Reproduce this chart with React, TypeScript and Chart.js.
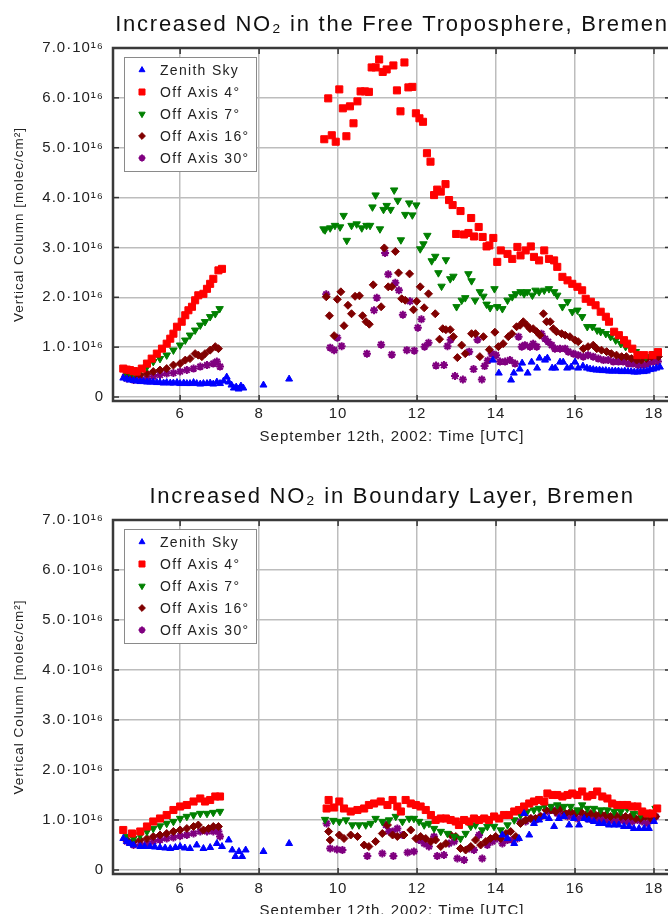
import React, { useEffect, useRef } from 'react';
import { Chart, registerables } from 'chart.js';
import { drawPoint } from 'chart.js/helpers';

Chart.register(...registerables);

type P = [number, number];

// ---------- axis ticks ----------
const xTicks = [6, 8, 10, 12, 14, 16, 18];
const yTicks = [0, 1, 2, 3, 4, 5, 6, 7];

// ---------- labels ----------
const seriesLabels = ['Zenith Sky', 'Off Axis 4°', 'Off Axis 7°', 'Off Axis 16°', 'Off Axis 30°'];
const chartTitles = [
  'Increased NO₂ in the Free Troposphere, Bremen',
  'Increased NO₂ in Boundary Layer, Bremen',
];
const xTitle = 'September 12th, 2002: Time [UTC]';
const yTitle = 'Vertical Column [molec/cm²]';

// ---------- Free troposphere (values in 1e16 molec/cm²) ----------
const ftZenith: P[] = [
  [4.56, 0.38], [4.65, 0.36], [4.73, 0.34], [4.82, 0.33], [4.9, 0.32], [4.99, 0.31], [5.07, 0.31],
  [5.16, 0.3], [5.24, 0.3], [5.32, 0.3], [5.41, 0.29], [5.49, 0.29], [5.58, 0.28], [5.66, 0.29],
  [5.75, 0.28], [5.83, 0.28], [5.92, 0.29], [6.0, 0.27], [6.09, 0.28], [6.17, 0.27], [6.25, 0.27],
  [6.34, 0.29], [6.42, 0.27], [6.51, 0.26], [6.59, 0.27], [6.68, 0.27], [6.76, 0.28], [6.84, 0.26],
  [6.93, 0.3], [7.01, 0.27], [7.1, 0.32], [7.18, 0.4], [7.23, 0.3], [7.3, 0.24], [7.36, 0.18],
  [7.42, 0.2], [7.48, 0.16], [7.54, 0.22], [7.6, 0.18], [8.11, 0.24], [8.76, 0.36],
  [13.92, 0.74], [14.07, 0.48], [14.38, 0.34], [14.45, 0.48], [14.6, 0.56], [14.66, 0.68],
  [14.8, 0.48], [14.9, 0.7], [15.04, 0.58], [15.1, 0.78], [15.24, 0.74], [15.3, 0.78],
  [15.42, 0.58], [15.5, 0.58], [15.62, 0.7], [15.7, 0.7], [15.8, 0.58], [15.9, 0.6], [16.0, 0.7],
  [16.08, 0.58], [16.2, 0.62], [16.3, 0.58], [16.38, 0.56], [16.46, 0.55], [16.54, 0.54],
  [16.62, 0.54], [16.7, 0.53], [16.78, 0.53], [16.86, 0.52], [16.94, 0.52], [17.02, 0.52],
  [17.1, 0.52], [17.18, 0.51], [17.26, 0.52], [17.34, 0.51], [17.42, 0.51], [17.5, 0.5],
  [17.58, 0.5], [17.66, 0.51], [17.74, 0.51], [17.82, 0.52], [17.9, 0.55], [17.98, 0.56],
  [18.06, 0.58], [18.15, 0.6],
];
const ftOff4: P[] = [
  [4.56, 0.57], [4.65, 0.55], [4.73, 0.54], [4.82, 0.52], [4.9, 0.51], [5.03, 0.57], [5.16, 0.67],
  [5.28, 0.77], [5.41, 0.87], [5.54, 0.97], [5.66, 1.07], [5.75, 1.17], [5.83, 1.27], [5.92, 1.41],
  [6.04, 1.51], [6.13, 1.64], [6.21, 1.74], [6.3, 1.81], [6.38, 1.94], [6.46, 2.04], [6.59, 2.07],
  [6.68, 2.17], [6.76, 2.27], [6.84, 2.37], [6.97, 2.54], [7.06, 2.57],
  [9.65, 5.17], [9.75, 5.99], [9.84, 5.25], [9.94, 5.12], [10.03, 6.17], [10.12, 5.79],
  [10.21, 5.23], [10.3, 5.83], [10.39, 5.49], [10.49, 5.93], [10.57, 6.13], [10.68, 6.13],
  [10.78, 6.12], [10.85, 6.61], [10.95, 6.61], [11.04, 6.77], [11.13, 6.52], [11.23, 6.57],
  [11.4, 6.65], [11.49, 6.15], [11.58, 5.73], [11.68, 6.71], [11.78, 6.21], [11.88, 6.22],
  [11.97, 5.69], [12.06, 5.59], [12.15, 5.52], [12.25, 4.89], [12.34, 4.72], [12.43, 4.05],
  [12.51, 4.16], [12.6, 4.12], [12.72, 4.27], [12.81, 3.95], [12.9, 3.85], [12.99, 3.27],
  [13.1, 3.73], [13.19, 3.26], [13.3, 3.29], [13.37, 3.59], [13.44, 3.22], [13.56, 3.41],
  [13.66, 3.21], [13.76, 3.02], [13.83, 3.04], [13.93, 3.19], [14.03, 2.71], [14.12, 2.94],
  [14.29, 2.87], [14.41, 2.77], [14.54, 3.01], [14.62, 2.84], [14.75, 2.94], [14.88, 3.02],
  [14.96, 2.81], [15.09, 2.74], [15.22, 2.94], [15.34, 2.77], [15.47, 2.74], [15.55, 2.61],
  [15.68, 2.41], [15.81, 2.34], [15.93, 2.27], [16.06, 2.21], [16.18, 2.14], [16.27, 1.97],
  [16.4, 1.91], [16.52, 1.84], [16.65, 1.71], [16.78, 1.61], [16.86, 1.51], [16.99, 1.31],
  [17.11, 1.24], [17.24, 1.14], [17.32, 1.07], [17.45, 0.97], [17.58, 0.84], [17.75, 0.84],
  [17.96, 0.84], [18.1, 0.9],
];
const ftOff7: P[] = [
  [4.61, 0.51], [4.72, 0.49], [4.82, 0.47], [4.99, 0.54], [5.16, 0.61], [5.32, 0.71], [5.49, 0.77],
  [5.66, 0.84], [5.83, 0.94], [6.0, 1.04], [6.13, 1.14], [6.25, 1.24], [6.38, 1.34], [6.51, 1.44],
  [6.63, 1.51], [6.76, 1.61], [6.89, 1.67], [7.0, 1.77],
  [9.63, 3.37], [9.67, 3.35], [9.8, 3.39], [9.92, 3.44], [10.05, 3.41], [10.14, 3.64],
  [10.22, 3.14], [10.34, 3.44], [10.47, 3.47], [10.6, 3.39], [10.72, 3.44], [10.81, 3.44],
  [10.87, 3.81], [10.95, 4.05], [11.06, 3.37], [11.15, 3.76], [11.23, 3.84], [11.33, 3.76],
  [11.42, 4.15], [11.51, 3.94], [11.59, 3.15], [11.7, 3.66], [11.8, 3.89], [11.88, 3.65],
  [11.98, 3.85], [12.08, 2.97], [12.16, 3.07], [12.26, 3.24], [12.37, 2.73], [12.46, 2.82],
  [12.54, 2.49], [12.62, 2.22], [12.73, 2.75], [12.84, 2.37], [12.92, 2.42], [13.0, 1.81],
  [13.13, 1.94], [13.22, 1.99], [13.3, 2.47], [13.38, 2.33], [13.47, 1.94], [13.59, 2.11],
  [13.68, 2.02], [13.76, 1.86], [13.85, 1.79], [13.96, 2.17], [14.03, 1.81], [14.16, 1.77],
  [14.29, 1.94], [14.41, 2.01], [14.5, 2.07], [14.62, 2.11], [14.71, 2.07], [14.79, 2.11],
  [14.92, 2.04], [15.0, 2.14], [15.09, 2.11], [15.22, 2.14], [15.34, 2.17], [15.47, 2.11],
  [15.55, 2.04], [15.68, 1.81], [15.81, 1.91], [15.93, 1.71], [16.06, 1.74], [16.18, 1.61],
  [16.31, 1.41], [16.44, 1.41], [16.56, 1.34], [16.65, 1.31], [16.78, 1.27], [16.9, 1.21],
  [17.03, 1.14], [17.16, 1.07], [17.28, 1.01], [17.41, 0.97], [17.54, 0.91], [17.66, 0.84],
  [17.79, 0.81], [18.0, 0.87],
];
const ftOff16: P[] = [
  [4.65, 0.44], [4.82, 0.41], [4.99, 0.44], [5.16, 0.47], [5.32, 0.51], [5.49, 0.54], [5.66, 0.57],
  [5.83, 0.64], [6.0, 0.67], [6.13, 0.74], [6.25, 0.77], [6.38, 0.87], [6.46, 0.84], [6.55, 0.81],
  [6.63, 0.87], [6.76, 0.94], [6.89, 1.01], [6.97, 0.97],
  [9.7, 2.01], [9.78, 1.63], [9.9, 1.23], [9.98, 1.96], [10.07, 2.11], [10.15, 1.43],
  [10.25, 1.84], [10.34, 1.67], [10.43, 2.02], [10.54, 2.03], [10.62, 1.63], [10.71, 1.51],
  [10.79, 1.46], [10.89, 2.25], [11.09, 1.81], [11.17, 2.99], [11.27, 2.21], [11.36, 2.21],
  [11.45, 2.92], [11.53, 2.49], [11.61, 1.97], [11.7, 1.94], [11.81, 2.47], [11.91, 1.75],
  [11.99, 1.92], [12.08, 2.21], [12.18, 1.79], [12.29, 2.07], [12.46, 1.67], [12.57, 1.16],
  [12.65, 1.37], [12.73, 1.35], [12.84, 1.35], [12.92, 1.21], [13.02, 0.79], [13.13, 1.04],
  [13.22, 0.87], [13.38, 1.27], [13.48, 1.27], [13.59, 0.81], [13.68, 1.21], [13.83, 0.95],
  [13.97, 1.3], [14.06, 1.01], [14.18, 1.07], [14.31, 1.21], [14.4, 1.27], [14.52, 1.41],
  [14.61, 1.44], [14.69, 1.51], [14.78, 1.44], [14.86, 1.37], [14.94, 1.37], [15.03, 1.31],
  [15.11, 1.24], [15.2, 1.67], [15.28, 1.51], [15.37, 1.51], [15.45, 1.37], [15.53, 1.31],
  [15.66, 1.27], [15.75, 1.24], [15.87, 1.21], [16.0, 1.14], [16.08, 1.11], [16.21, 0.97],
  [16.33, 1.01], [16.46, 1.04], [16.55, 0.97], [16.67, 0.94], [16.8, 0.91], [16.92, 0.87],
  [17.05, 0.84], [17.18, 0.81], [17.3, 0.81], [17.43, 0.77], [17.56, 0.74], [17.68, 0.74],
  [17.81, 0.77], [17.94, 0.81], [18.11, 0.81],
];
const ftOff30: P[] = [
  [4.61, 0.41], [4.65, 0.37], [4.82, 0.34], [4.99, 0.35], [5.16, 0.37], [5.32, 0.41], [5.49, 0.44],
  [5.66, 0.47], [5.83, 0.48], [6.0, 0.51], [6.17, 0.54], [6.34, 0.57], [6.51, 0.61], [6.68, 0.64],
  [6.84, 0.67], [6.93, 0.71], [7.01, 0.61],
  [9.7, 2.06], [9.8, 0.99], [9.9, 0.94], [9.98, 1.19], [10.09, 1.02], [10.73, 0.87], [10.91, 1.74],
  [10.98, 1.99], [11.09, 1.05], [11.19, 2.89], [11.27, 2.46], [11.36, 0.85], [11.45, 2.29],
  [11.54, 2.14], [11.64, 1.65], [11.74, 0.94], [11.82, 1.92], [11.93, 0.93], [12.02, 1.39],
  [12.11, 1.56], [12.19, 1.01], [12.29, 1.09], [12.48, 0.63], [12.68, 0.64], [12.77, 1.02],
  [12.85, 1.15], [12.96, 0.42], [13.16, 0.35], [13.32, 0.91], [13.43, 0.56], [13.53, 1.15],
  [13.64, 0.35], [13.71, 0.62], [13.79, 0.73], [13.89, 0.87], [14.0, 0.84], [14.1, 0.71],
  [14.23, 0.71], [14.35, 0.74], [14.48, 0.67], [14.57, 1.21], [14.65, 1.01], [14.73, 1.04],
  [14.86, 1.01], [14.94, 1.07], [15.03, 1.01], [15.15, 1.27], [15.24, 1.17], [15.32, 1.11],
  [15.41, 1.04], [15.49, 0.97], [15.62, 0.97], [15.75, 0.97], [15.83, 0.91], [15.96, 0.87],
  [16.08, 0.84], [16.21, 0.81], [16.33, 0.84], [16.46, 0.81], [16.59, 0.77], [16.72, 0.74],
  [16.84, 0.74], [16.97, 0.71], [17.1, 0.71], [17.22, 0.71], [17.35, 0.67], [17.47, 0.67],
  [17.6, 0.64], [17.73, 0.64], [17.85, 0.67], [17.97, 0.71], [18.1, 0.71],
];

// ---------- Boundary layer (values in 1e16 molec/cm²) ----------
const blZenith: P[] = [
  [4.56, 0.63], [4.65, 0.57], [4.73, 0.53], [4.82, 0.5], [4.99, 0.47], [5.1, 0.47], [5.24, 0.47],
  [5.36, 0.46], [5.49, 0.45], [5.62, 0.44], [5.75, 0.43], [5.88, 0.45], [6.0, 0.47], [6.12, 0.44],
  [6.25, 0.43], [6.42, 0.5], [6.59, 0.43], [6.76, 0.45], [6.93, 0.53], [7.06, 0.47], [7.23, 0.6],
  [7.32, 0.4], [7.4, 0.27], [7.49, 0.37], [7.57, 0.27], [7.66, 0.4], [8.11, 0.37], [8.76, 0.53],
  [14.16, 0.7], [14.29, 0.63], [14.46, 0.53], [14.58, 0.63], [14.71, 1.13], [14.84, 0.7],
  [14.96, 0.93], [15.09, 1.0], [15.22, 1.07], [15.34, 1.03], [15.47, 0.87], [15.59, 1.03],
  [15.72, 1.07], [15.85, 0.9], [15.97, 1.03], [16.1, 0.9], [16.23, 1.03], [16.35, 1.0],
  [16.48, 0.97], [16.61, 0.93], [16.73, 0.93], [16.86, 0.9], [16.99, 0.9], [17.11, 0.9],
  [17.24, 0.87], [17.37, 0.87], [17.49, 0.83], [17.62, 0.83], [17.75, 0.83], [17.87, 0.83],
  [18.0, 0.97],
];
const blOff4: P[] = [
  [4.56, 0.8], [4.78, 0.73], [4.99, 0.77], [5.16, 0.87], [5.32, 0.97], [5.49, 1.03], [5.66, 1.1],
  [5.83, 1.2], [6.0, 1.27], [6.17, 1.3], [6.34, 1.37], [6.51, 1.43], [6.63, 1.37], [6.76, 1.4],
  [6.89, 1.47], [7.01, 1.47],
  [9.71, 1.23], [9.76, 1.4], [9.9, 1.25], [10.03, 1.37], [10.15, 1.23], [10.32, 1.17],
  [10.49, 1.2], [10.66, 1.23], [10.78, 1.3], [10.91, 1.33], [11.08, 1.37], [11.25, 1.3],
  [11.38, 1.4], [11.5, 1.27], [11.59, 1.17], [11.71, 1.4], [11.84, 1.33], [11.97, 1.3],
  [12.09, 1.27], [12.22, 1.2], [12.35, 1.1], [12.47, 1.0], [12.6, 1.03], [12.73, 1.03],
  [12.85, 1.0], [12.98, 0.97], [13.06, 0.9], [13.19, 1.0], [13.32, 0.97], [13.44, 1.03],
  [13.57, 1.0], [13.7, 1.03], [13.82, 1.0], [13.95, 1.07], [14.08, 1.03], [14.2, 1.1],
  [14.33, 1.1], [14.46, 1.17], [14.58, 1.2], [14.71, 1.27], [14.84, 1.33], [14.96, 1.37],
  [15.09, 1.4], [15.22, 1.37], [15.3, 1.53], [15.43, 1.5], [15.55, 1.5], [15.68, 1.47],
  [15.81, 1.5], [15.93, 1.53], [16.06, 1.5], [16.18, 1.57], [16.31, 1.47], [16.44, 1.5],
  [16.56, 1.57], [16.69, 1.47], [16.82, 1.43], [16.94, 1.33], [17.07, 1.3], [17.2, 1.3],
  [17.32, 1.3], [17.45, 1.27], [17.58, 1.27], [17.7, 1.17], [17.83, 1.13], [17.96, 1.13],
  [18.08, 1.23],
];
const blOff7: P[] = [
  [4.65, 0.67], [4.82, 0.63], [4.99, 0.7], [5.16, 0.77], [5.32, 0.83], [5.49, 0.88], [5.66, 0.93],
  [5.83, 0.97], [6.0, 1.03], [6.17, 1.07], [6.34, 1.1], [6.51, 1.13], [6.68, 1.13], [6.84, 1.15],
  [7.01, 1.17],
  [9.67, 1.01], [9.88, 0.99], [10.03, 0.97], [10.2, 1.0], [10.36, 0.9], [10.53, 0.9], [10.7, 0.9],
  [10.83, 0.93], [10.95, 1.03], [11.12, 0.97], [11.29, 1.0], [11.46, 1.07], [11.63, 0.97],
  [11.8, 1.03], [11.92, 1.03], [12.05, 0.97], [12.18, 0.9], [12.3, 0.93], [12.43, 0.83],
  [12.6, 0.77], [12.77, 0.73], [12.94, 0.67], [13.1, 0.63], [13.23, 0.73], [13.36, 0.87],
  [13.48, 0.9], [13.65, 0.8], [13.78, 0.87], [13.95, 0.87], [14.12, 0.8], [14.29, 0.9],
  [14.46, 1.0], [14.62, 1.1], [14.79, 1.17], [14.96, 1.2], [15.09, 1.23], [15.22, 1.3],
  [15.39, 1.27], [15.55, 1.3], [15.72, 1.27], [15.89, 1.27], [16.06, 1.2], [16.18, 1.3],
  [16.31, 1.23], [16.48, 1.23], [16.65, 1.2], [16.82, 1.2], [16.99, 1.17], [17.16, 1.17],
  [17.32, 1.23], [17.49, 1.13], [17.66, 1.1], [17.83, 1.13], [18.04, 1.23],
];
const blOff16: P[] = [
  [4.65, 0.6], [4.82, 0.57], [4.99, 0.6], [5.16, 0.63], [5.32, 0.67], [5.49, 0.7], [5.66, 0.73],
  [5.83, 0.77], [6.0, 0.8], [6.17, 0.83], [6.34, 0.87], [6.46, 0.9], [6.59, 0.8], [6.72, 0.83],
  [6.84, 0.87], [6.97, 0.87],
  [9.76, 0.77], [9.8, 0.6], [10.03, 0.7], [10.15, 0.63], [10.32, 0.7], [10.49, 0.67],
  [10.66, 0.5], [10.78, 0.47], [10.95, 0.57], [11.12, 0.73], [11.25, 0.9], [11.38, 0.7],
  [11.5, 0.67], [11.67, 0.7], [11.84, 0.8], [11.97, 0.63], [12.09, 0.67], [12.22, 0.63],
  [12.35, 0.57], [12.47, 0.6], [12.6, 0.47], [12.73, 0.53], [12.85, 0.7], [12.98, 0.67],
  [13.1, 0.43], [13.23, 0.4], [13.36, 0.47], [13.48, 0.6], [13.61, 0.5], [13.74, 0.57],
  [13.86, 0.63], [13.99, 0.67], [14.12, 0.63], [14.25, 0.73], [14.37, 0.77], [14.5, 0.67],
  [14.62, 0.93], [14.75, 1.0], [14.88, 1.03], [15.0, 1.03], [15.13, 1.07], [15.26, 1.2],
  [15.39, 1.2], [15.51, 1.17], [15.64, 1.23], [15.76, 1.13], [15.89, 1.17], [16.01, 1.13],
  [16.14, 1.17], [16.27, 1.1], [16.4, 1.13], [16.52, 1.1], [16.65, 1.13], [16.78, 1.1],
  [16.9, 1.07], [17.03, 1.1], [17.16, 1.07], [17.28, 1.07], [17.41, 1.07], [17.54, 1.03],
  [17.66, 1.03], [17.79, 1.07], [17.92, 1.03], [18.04, 1.07],
];
const blOff30: P[] = [
  [4.65, 0.57], [4.82, 0.5], [4.99, 0.5], [5.16, 0.53], [5.32, 0.57], [5.49, 0.6], [5.66, 0.63],
  [5.83, 0.65], [6.0, 0.68], [6.17, 0.7], [6.34, 0.73], [6.51, 0.77], [6.68, 0.77], [6.84, 0.77],
  [6.97, 0.77], [7.01, 0.67],
  [9.71, 0.93], [9.8, 0.43], [9.97, 0.41], [10.11, 0.4], [10.74, 0.28], [11.12, 0.33],
  [11.21, 0.9], [11.29, 0.77], [11.38, 0.77], [11.4, 0.28], [11.5, 0.83], [11.63, 0.7],
  [11.76, 0.35], [11.92, 0.37], [12.05, 0.6], [12.18, 0.53], [12.3, 0.47], [12.43, 0.67],
  [12.51, 0.28], [12.68, 0.3], [12.81, 0.53], [12.94, 0.57], [13.02, 0.23], [13.19, 0.2],
  [13.32, 0.43], [13.44, 0.4], [13.57, 0.7], [13.65, 0.23], [13.78, 0.5], [13.91, 0.57],
  [14.03, 0.63], [14.16, 0.53], [14.29, 0.6], [14.41, 0.6], [14.54, 0.63], [14.62, 0.97],
  [14.75, 0.97], [14.88, 1.03], [15.0, 1.0], [15.13, 1.07], [15.3, 1.17], [15.43, 1.2],
  [15.55, 1.13], [15.68, 1.1], [15.81, 1.07], [15.93, 1.1], [16.06, 1.03], [16.18, 1.07],
  [16.31, 1.03], [16.44, 1.0], [16.56, 1.03], [16.69, 1.0], [16.82, 1.0], [16.94, 1.0],
  [17.07, 0.97], [17.2, 1.0], [17.32, 0.97], [17.45, 0.97], [17.58, 1.0], [17.7, 0.97],
  [17.83, 0.93], [17.96, 1.0], [18.04, 1.07],
];

const ftSeries = [ftZenith, ftOff4, ftOff7, ftOff16, ftOff30];
const blSeries = [blZenith, blOff4, blOff7, blOff16, blOff30];

// ---------- styles ----------
const FONT = "'Liberation Sans', Arial, Helvetica, sans-serif";
const markerStyles = [
  { color: '#0000ff', pointStyle: 'triangle', radius: 4, rotation: 0, borderWidth: 1 },
  { color: '#ff0000', pointStyle: 'rect', radius: 5, rotation: 0, borderWidth: 1 },
  { color: '#008000', pointStyle: 'triangle', radius: 4.3, rotation: 180, borderWidth: 1 },
  { color: '#800000', pointStyle: 'rectRot', radius: 4, rotation: 0, borderWidth: 1 },
  { color: '#800080', pointStyle: 'star', radius: 4, rotation: 0, borderWidth: 2 },
];

const textPlugin = {
  id: 'spacedText',
  beforeDraw(chart: any) {
    (chart.ctx as any).letterSpacing = '1px';
  },
  afterDraw(chart: any, _args: any, opts: any) {
    const { ctx, chartArea: a } = chart;
    ctx.save();
    (ctx as any).letterSpacing = '1.75px';
    ctx.font = `22px ${FONT}`;
    ctx.fillStyle = '#111';
    ctx.textAlign = 'center';
    ctx.textBaseline = 'middle';
    ctx.fillText(opts.text, (a.left + a.right) / 2, opts.y);
    ctx.restore();
  },
};

const framePlugin = {
  id: 'frameAndLegend',
  afterDatasetsDraw(chart: any) {
    const { ctx, chartArea: a, scales } = chart;
    ctx.save();
    ctx.strokeStyle = '#333';
    ctx.lineWidth = 1.5;
    const seg = (x1: number, y1: number, x2: number, y2: number) => {
      ctx.beginPath();
      ctx.moveTo(x1, y1);
      ctx.lineTo(x2, y2);
      ctx.stroke();
    };
    xTicks.forEach((v) => {
      const x = scales.x.getPixelForValue(v);
      seg(x, a.top, x, a.top + 6);
      seg(x, a.bottom, x, a.bottom - 6);
    });
    yTicks.forEach((v) => {
      const y = scales.y.getPixelForValue(v);
      seg(a.left, y, a.left + 6, y);
      seg(a.right, y, a.right - 6, y);
    });
    ctx.lineWidth = 2.5;
    ctx.strokeStyle = '#3a3a3a';
    ctx.strokeRect(a.left, a.top, a.right - a.left, a.bottom - a.top);

    // legend box
    const lx = a.left + 11;
    const ly = a.top + 9;
    const w = 132;
    const h = 114;
    ctx.fillStyle = '#ffffff';
    ctx.fillRect(lx, ly, w, h);
    ctx.strokeStyle = '#8a8a8a';
    ctx.lineWidth = 1;
    ctx.strokeRect(lx + 0.5, ly + 0.5, w, h);
    chart.data.datasets.forEach((ds: any, i: number) => {
      const y = ly + 13 + i * 22;
      ctx.fillStyle = ds.backgroundColor;
      ctx.strokeStyle = ds.borderColor;
      ctx.lineWidth = ds.borderWidth;
      drawPoint(
        ctx,
        { pointStyle: ds.pointStyle, rotation: ds.rotation, radius: ds.pointRadius * 0.85, borderWidth: ds.borderWidth },
        lx + 18,
        y
      );
      ctx.fillStyle = '#222';
      ctx.font = `14px ${FONT}`;
      (ctx as any).letterSpacing = '1.3px';
      ctx.textBaseline = 'middle';
      ctx.textAlign = 'left';
      ctx.fillText(ds.label, lx + 36, y + 1);
    });
    ctx.restore();
  },
};

type Layout = {
  top: number;
  titleY: number;
  xScaleHeight: number;
  xTickPad: number;
  xTitlePadBottom: number;
};

function buildConfig(title: string, series: P[][], lay: Layout): any {
  return {
    type: 'scatter',
    data: {
      datasets: series.map((pts, i) => {
        const st = markerStyles[i];
        return {
          label: seriesLabels[i],
          data: pts.map(([x, y]) => ({ x, y })),
          pointStyle: st.pointStyle,
          rotation: st.rotation,
          pointRadius: st.radius,
          pointHoverRadius: st.radius,
          backgroundColor: st.color,
          borderColor: st.color,
          borderWidth: st.borderWidth,
          showLine: false,
        };
      }),
    },
    options: {
      responsive: false,
      animation: false,
      layout: { padding: { left: 0, right: 9, top: lay.top, bottom: 0 } },
      plugins: {
        legend: { display: false },
        tooltip: { enabled: false },
        title: { display: false },
        spacedText: { text: title, y: lay.titleY },
      },
      scales: {
        x: {
          type: 'linear',
          min: 4.3,
          max: 18.43,
          afterBuildTicks: (s: any) => {
            s.ticks = xTicks.map((v) => ({ value: v }));
          },
          afterFit: (s: any) => {
            s.height = lay.xScaleHeight;
          },
          grid: { color: '#bdbdbd', lineWidth: 1.5, drawTicks: false },
          border: { display: false },
          ticks: {
            padding: lay.xTickPad,
            color: '#222',
            autoSkip: false,
            maxRotation: 0,
            font: { size: 15, family: FONT },
            callback: (v: any) => String(v),
          },
          title: {
            display: true,
            text: xTitle,
            color: '#222',
            font: { size: 15, family: FONT },
            padding: { top: 0, bottom: lay.xTitlePadBottom },
          },
        },
        y: {
          type: 'linear',
          min: -0.08,
          max: 7,
          afterBuildTicks: (s: any) => {
            s.ticks = yTicks.map((v) => ({ value: v }));
          },
          afterFit: (s: any) => {
            s.width = 113;
          },
          grid: { color: '#bdbdbd', lineWidth: 1.5, drawTicks: false },
          border: { display: false },
          ticks: {
            padding: 9,
            color: '#222',
            font: { size: 15, family: FONT },
            callback: (v: any) => (v === 0 ? '0' : `${Number(v).toFixed(1)}·10¹⁶`),
          },
          title: {
            display: true,
            text: yTitle,
            color: '#222',
            font: { size: 13.5, family: FONT },
            padding: { top: 11, bottom: 0 },
          },
        },
      },
    },
    plugins: [textPlugin, framePlugin],
  };
}

function ChartCanvas(props: { title: string; series: P[][]; lay: Layout; width: number; height: number }) {
  const ref = useRef<HTMLCanvasElement | null>(null);
  useEffect(() => {
    if (!ref.current) return;
    const chart = new Chart(ref.current, buildConfig(props.title, props.series, props.lay));
    return () => chart.destroy();
  }, []);
  return (
    <canvas
      ref={ref}
      width={props.width}
      height={props.height}
      style={{ display: 'block', width: props.width, height: props.height }}
    />
  );
}

export default function App() {
  return (
    <div
      style={{
        position: 'fixed',
        left: 0,
        top: 0,
        width: 668,
        height: 914,
        overflow: 'hidden',
        background: '#ffffff',
      }}
    >
      <div style={{ position: 'absolute', left: 0, top: 0 }}>
        <ChartCanvas
          title={chartTitles[0]}
          series={ftSeries}
          width={680}
          height={450}
          lay={{ top: 48, titleY: 25, xScaleHeight: 49, xTickPad: 4, xTitlePadBottom: 4 }}
        />
      </div>
      <div style={{ position: 'absolute', left: 0, top: 457 }}>
        <ChartCanvas
          title={chartTitles[1]}
          series={blSeries}
          width={680}
          height={470}
          lay={{ top: 63, titleY: 40, xScaleHeight: 53, xTickPad: 6, xTitlePadBottom: 7 }}
        />
      </div>
    </div>
  );
}
